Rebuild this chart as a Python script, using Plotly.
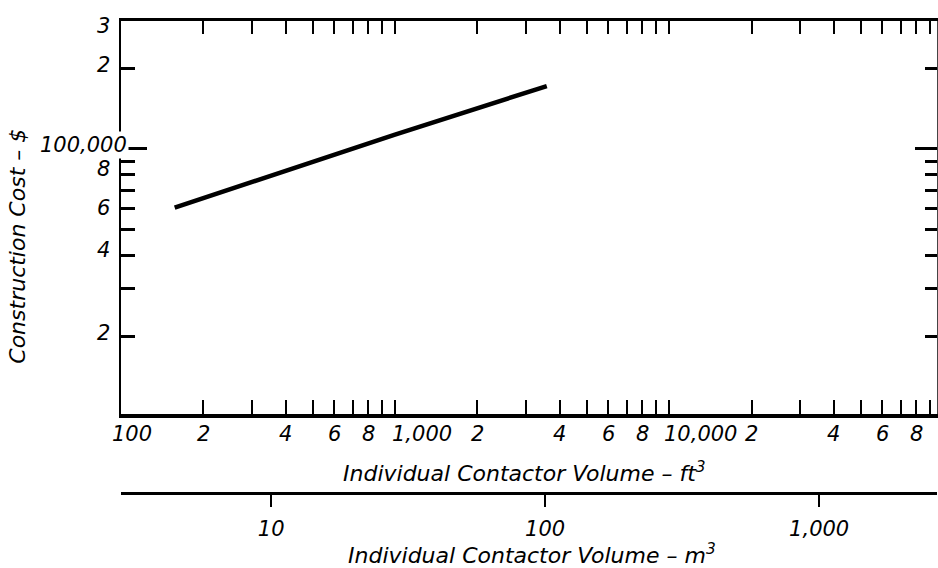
import math
import plotly.graph_objects as go

# ---- data ----
volume_ft3 = [157, 1000, 3580]          # individual contactor volume, ft3
cost_usd = [60300, 113000, 171500]      # construction cost, $

x_minor_ticks = [100, 200, 300, 400, 500, 600, 700, 800, 900,
                 1000, 2000, 3000, 4000, 5000, 6000, 7000, 8000, 9000,
                 10000, 20000, 30000, 40000, 50000, 60000, 70000, 80000, 90000]
x_label_vals = [100, 200, 400, 600, 800, 1000, 2000, 4000, 6000, 8000,
                10000, 20000, 40000, 60000, 80000]
x_label_text = ["100", "2", "4", "6", "8", "1,000", "2", "4", "6", "8",
                "10,000", "2", "4", "6", "8"]

y_minor_ticks = [20000, 30000, 40000, 50000, 60000, 70000, 80000, 90000, 200000]
y_label_vals = [300000, 200000, 100000, 80000, 60000, 40000, 20000]
y_label_text = ["3", "2", "100,000", "8", "6", "4", "2"]

m3_tick_vals = [10, 100, 1000]
m3_tick_text = ["10", "100", "1,000"]

FT3_PER_M3 = 35.3147

X_RANGE = [2.0, 4.978]
Y_RANGE = [4.01, math.log10(300000)]

FONT = dict(family="DejaVu Sans", style="italic", color="black")
TICK_SIZE = 21
TITLE_SIZE = 22

fig = go.Figure()

# main curve
fig.add_trace(go.Scatter(x=volume_ft3, y=cost_usd, mode="lines",
                         line=dict(color="black", width=4.5),
                         xaxis="x", yaxis="y", showlegend=False))
# invisible helper traces so the overlay axes are drawn
clear = dict(color="rgba(0,0,0,0)", width=0)
fig.add_trace(go.Scatter(x=volume_ft3, y=cost_usd, mode="lines", line=clear,
                         xaxis="x3", yaxis="y", showlegend=False, hoverinfo="skip"))
fig.add_trace(go.Scatter(x=volume_ft3, y=cost_usd, mode="lines", line=clear,
                         xaxis="x", yaxis="y2", showlegend=False, hoverinfo="skip"))
fig.add_trace(go.Scatter(x=[v / FT3_PER_M3 for v in volume_ft3], y=cost_usd,
                         mode="lines", line=clear,
                         xaxis="x2", yaxis="y", showlegend=False, hoverinfo="skip"))

DOMAIN_Y0 = 0.1674

common_x = dict(type="log", range=X_RANGE, showgrid=False, zeroline=False)
common_y = dict(type="log", range=Y_RANGE, showgrid=False, zeroline=False,
                domain=[DOMAIN_Y0, 1])

fig.update_layout(
    width=938, height=568,
    margin=dict(l=121, r=1, t=21, b=75),
    paper_bgcolor="white", plot_bgcolor="white",
    font=dict(size=TICK_SIZE, **FONT),
    xaxis=dict(**common_x, anchor="y", side="bottom",
               showline=True, linewidth=4, linecolor="black",
               ticks="inside", tickmode="array", tickvals=x_minor_ticks,
               ticklen=14, tickwidth=2, tickcolor="black",
               showticklabels=False),
    xaxis3=dict(**common_x, overlaying="x", anchor="y", side="top",
                showline=True, linewidth=2.5, linecolor="black",
                ticks="inside", tickmode="array", tickvals=x_minor_ticks[1:],
                ticklen=13, tickwidth=2, tickcolor="black",
                showticklabels=False),
    xaxis2=dict(type="log",
                range=[X_RANGE[0] - math.log10(FT3_PER_M3),
                       X_RANGE[1] - math.log10(FT3_PER_M3)],
                overlaying="x", anchor="free", position=0, side="bottom",
                showgrid=False, zeroline=False,
                showline=True, linewidth=2.5, linecolor="black",
                ticks="outside", tickmode="array", tickvals=m3_tick_vals,
                ticktext=m3_tick_text, ticklen=12, tickwidth=2, tickcolor="black",
                tickfont=dict(size=TICK_SIZE, **FONT), ticklabelstandoff=4),
    yaxis=dict(**common_y, anchor="x", side="left",
               showline=True, linewidth=2, linecolor="black",
               ticks="inside", tickmode="array", tickvals=[100000],
               ticklen=26, tickwidth=2.5, tickcolor="black",
               showticklabels=False,
               minor=dict(tickmode="array", tickvals=y_minor_ticks,
                          ticks="inside", ticklen=14, tickwidth=2.5,
                          tickcolor="black", showgrid=False)),
    yaxis2=dict(**common_y,
                overlaying="y", anchor="x", side="right",
                showline=True, linewidth=1.5, linecolor="#444",
                ticks="inside", tickmode="array", tickvals=[100000],
                ticklen=22, tickwidth=2.5, tickcolor="black",
                showticklabels=False,
                minor=dict(tickmode="array", tickvals=y_minor_ticks,
                           ticks="inside", ticklen=12, tickwidth=2.5,
                           tickcolor="black", showgrid=False)),
)

annotations = []

# bottom ft3 tick labels
big_shift = {"100": 11, "1,000": 27, "10,000": 31}
for v, t in zip(x_label_vals, x_label_text):
    annotations.append(dict(x=math.log10(v), xref="x", y=0, yref="y domain",
                            text=t, showarrow=False, xanchor="center",
                            yanchor="top", xshift=big_shift.get(t, 0), yshift=-6,
                            font=dict(size=TICK_SIZE, **FONT)))

# left cost tick labels
y_shift = {"3": -5, "2": 3, "100,000": 4, "8": 6, "6": 0, "4": 5}
for v, t in zip(y_label_vals, y_label_text):
    ys = y_shift.get(t, 4)
    ann = dict(x=0, xref="paper", y=math.log10(v), yref="y",
               text=t, showarrow=False, xanchor="right", yanchor="middle",
               xshift=-9, yshift=ys, font=dict(size=TICK_SIZE, **FONT))
    if t == "100,000":
        ann.update(xshift=8, bgcolor="white")
    annotations.append(ann)

# axis titles
annotations.append(dict(x=(524 - 121) / 816, xref="paper", y=(493 - 471.7) / 472,
                        yref="paper", text="Individual Contactor Volume \u2013 ft<sup>3</sup>",
                        showarrow=False, xanchor="center", yanchor="middle",
                        font=dict(size=TITLE_SIZE, **FONT)))
annotations.append(dict(x=(531.7 - 121) / 816, xref="paper", y=(493 - 553.5) / 472,
                        yref="paper", text="Individual Contactor Volume \u2013 m<sup>3</sup>",
                        showarrow=False, xanchor="center", yanchor="middle",
                        font=dict(size=TITLE_SIZE, **FONT)))
annotations.append(dict(x=(18 - 121) / 816, xref="paper", y=(493 - 246.7) / 472,
                        yref="paper", text="Construction Cost \u2013 $",
                        textangle=-90, showarrow=False, xanchor="center",
                        yanchor="middle", font=dict(size=TITLE_SIZE, **FONT)))

fig.update_layout(annotations=annotations)

fig.write_html("out.html",
               config={"displayModeBar": False},
               post_script="document.body.style.margin='0';"
                           "document.body.style.overflow='hidden';")
